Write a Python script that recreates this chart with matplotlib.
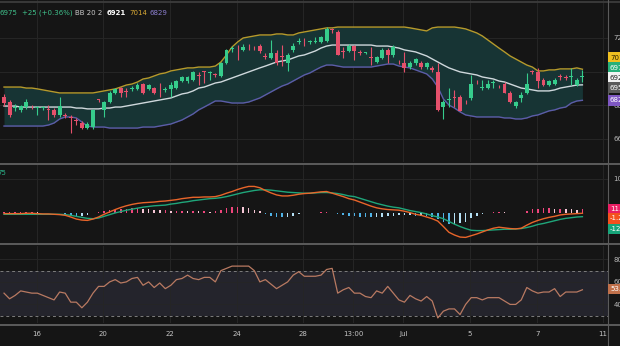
import matplotlib.pyplot as plt
from matplotlib.lines import Line2D

# 4h candles (bar index 0..104)
opens = [6849, 6819, 6783, 6772, 6789, 6789, 6783, 6783, 6778, 6772,
         6742, 6742, 6730, 6712, 6694, 6664, 6670, 6831, 6772, 6819,
         6873, 6902, 6879, 6897, 6897, 6926, 6897, 6902, 6902, 6891,
         6897, 6902, 6944, 6944, 6950, 6974, 6998, 6992, 6980, 6974,
         7051, 7135, 7146, 7129, 7146, 7140, 7152, 7087, 7081, 7111,
         7087, 7051, 7129, 7176, 7176, 7176, 7176, 7176, 7182, 7248,
         7236, 7117, 7123, 7152, 7111, 7111, 7081, 7057, 7081, 7129,
         7099, 7057, 7051, 7027, 7051, 7051, 7027, 7022, 6998, 6789,
         6831, 6843, 6849, 6819, 6843, 6938, 6902, 6902, 6932, 6908,
         6926, 6873, 6795, 6843, 6873, 6998, 6998, 6950, 6920, 6926,
         6968, 6962, 6968, 6920, 6968]
highs = [6867, 6831, 6807, 6801, 6837, 6801, 6795, 6795, 6801, 6783,
         6849, 6754, 6742, 6724, 6706, 6700, 6778, 6837, 6825, 6885,
         6902, 6908, 6902, 6914, 6932, 6932, 6926, 6908, 6932, 6908,
         6938, 6950, 6974, 6974, 7004, 6998, 7004, 7004, 6992, 7057,
         7135, 7152, 7158, 7164, 7164, 7152, 7164, 7111, 7188, 7129,
         7158, 7111, 7170, 7200, 7200, 7188, 7206, 7212, 7265, 7260,
         7248, 7146, 7164, 7158, 7129, 7117, 7146, 7093, 7140, 7140,
         7158, 7069, 7117, 7063, 7081, 7063, 7057, 7033, 7051, 6831,
         6902, 6891, 6861, 6831, 6980, 6950, 6950, 6950, 6950, 6920,
         6938, 6885, 6825, 6879, 6992, 7010, 7022, 6962, 6950, 6962,
         6986, 6980, 7022, 6962, 7010]
lows = [6795, 6730, 6766, 6760, 6778, 6778, 6742, 6772, 6712, 6730,
        6730, 6724, 6635, 6682, 6658, 6658, 6658, 6819, 6730, 6813,
        6867, 6849, 6849, 6885, 6891, 6867, 6891, 6867, 6849, 6879,
        6849, 6897, 6938, 6932, 6944, 6920, 6932, 6950, 6968, 6968,
        7045, 7117, 7069, 7123, 7129, 7129, 7111, 7075, 7075, 7039,
        7033, 7004, 7117, 7164, 7152, 7164, 7170, 7170, 7176, 7230,
        7099, 7081, 7117, 7069, 7099, 7105, 7039, 7051, 7075, 7051,
        7087, 7045, 6998, 7016, 7039, 7016, 7016, 6998, 6766, 6718,
        6789, 6789, 6766, 6807, 6831, 6926, 6891, 6897, 6902, 6902,
        6873, 6813, 6783, 6819, 6867, 6986, 6902, 6914, 6914, 6920,
        6950, 6950, 6920, 6914, 6938]
closes = [6813, 6742, 6789, 6795, 6819, 6787, 6785, 6789, 6772, 6742,
          6795, 6736, 6724, 6706, 6664, 6688, 6772, 6829, 6819, 6873,
          6897, 6873, 6877, 6902, 6920, 6873, 6920, 6873, 6900, 6897,
          6920, 6944, 6968, 6968, 6998, 6972, 6996, 6998, 6978, 7051,
          7129, 7140, 7144, 7146, 7144, 7138, 7123, 7085, 7111, 7051,
          7085, 7099, 7152, 7182, 7174, 7178, 7180, 7206, 7254, 7246,
          7099, 7115, 7152, 7123, 7109, 7113, 7079, 7087, 7129, 7099,
          7146, 7055, 7022, 7051, 7075, 7027, 7051, 7010, 6772, 6819,
          6837, 6841, 6766, 6817, 6926, 6936, 6908, 6926, 6938, 6906,
          6873, 6819, 6819, 6861, 6926, 6996, 6944, 6920, 6944, 6950,
          6966, 6960, 6970, 6950, 6975]

# Bollinger Bands (20, 2)
bb_upper = [6908, 6908, 6908, 6908, 6902, 6902, 6897, 6891, 6885, 6879,
            6873, 6873, 6873, 6873, 6873, 6873, 6873, 6879, 6885, 6891,
            6897, 6908, 6920, 6926, 6938, 6956, 6962, 6974, 6986, 6992,
            7004, 7010, 7016, 7022, 7022, 7027, 7027, 7027, 7033, 7057,
            7099, 7146, 7176, 7200, 7206, 7212, 7218, 7218, 7218, 7224,
            7224, 7218, 7218, 7230, 7236, 7242, 7248, 7254, 7260, 7260,
            7265, 7265, 7265, 7265, 7265, 7265, 7265, 7265, 7265, 7265,
            7265, 7265, 7265, 7260, 7254, 7248, 7242, 7260, 7265, 7265,
            7265, 7265, 7260, 7254, 7242, 7230, 7212, 7188, 7164, 7140,
            7117, 7093, 7075, 7057, 7039, 7027, 7004, 7004, 7010, 7010,
            7016, 7016, 7016, 7022, 7014]
bb_mid = [6795, 6795, 6795, 6789, 6789, 6789, 6789, 6789, 6789, 6789,
          6789, 6789, 6789, 6783, 6783, 6778, 6778, 6778, 6783, 6783,
          6789, 6789, 6795, 6801, 6807, 6813, 6819, 6825, 6831, 6837,
          6843, 6855, 6867, 6873, 6885, 6902, 6908, 6920, 6932, 6938,
          6950, 6962, 6974, 6986, 6998, 7010, 7022, 7033, 7045, 7057,
          7063, 7069, 7081, 7093, 7099, 7111, 7123, 7140, 7152, 7158,
          7158, 7158, 7158, 7158, 7158, 7158, 7158, 7152, 7152, 7152,
          7146, 7140, 7129, 7123, 7117, 7105, 7093, 7075, 7057, 7039,
          7022, 7010, 6998, 6992, 6986, 6980, 6968, 6962, 6956, 6944,
          6938, 6926, 6914, 6902, 6897, 6891, 6885, 6885, 6885, 6891,
          6902, 6908, 6914, 6920, 6921]
bb_lower = [6676, 6676, 6676, 6676, 6676, 6676, 6676, 6676, 6682, 6694,
            6718, 6730, 6730, 6724, 6700, 6676, 6670, 6670, 6670, 6664,
            6664, 6664, 6664, 6664, 6664, 6670, 6670, 6670, 6676, 6682,
            6688, 6700, 6712, 6730, 6748, 6772, 6789, 6807, 6825, 6825,
            6819, 6813, 6813, 6813, 6819, 6831, 6843, 6861, 6879, 6897,
            6914, 6926, 6944, 6962, 6980, 6992, 7010, 7027, 7039, 7039,
            7033, 7027, 7027, 7027, 7027, 7027, 7027, 7033, 7039, 7045,
            7045, 7033, 7027, 7022, 7010, 6998, 6986, 6956, 6908, 6837,
            6801, 6783, 6760, 6742, 6736, 6730, 6730, 6730, 6730, 6730,
            6724, 6724, 6718, 6718, 6724, 6736, 6742, 6754, 6766, 6772,
            6783, 6789, 6813, 6825, 6829]

# MACD (12, 26, 9)
macd_line = [-2, -2, -2, -2, -1, -1, -2, -3, -3, -4,
             -5, -7, -12, -18, -21, -22, -18, -12, -4, 3,
             10, 16, 21, 25, 28, 30, 31, 32, 34, 35,
             37, 39, 42, 44, 46, 46, 47, 47, 48, 52,
             58, 63, 69, 74, 78, 78, 74, 66, 59, 53,
             50, 50, 52, 55, 57, 58, 60, 62, 63, 58,
             53, 48, 42, 38, 32, 26, 20, 15, 12, 10,
             9, 8, 5, 1, -4, -7, -12, -17, -24, -40,
             -57, -65, -71, -72, -67, -62, -56, -50, -45, -42,
             -44, -46, -47, -45, -36, -28, -22, -17, -13, -10,
             -6, -4, -3, -2, -1]
signal_line = [-4, -4, -4, -4, -4, -4, -4, -4, -4, -4,
               -4, -5, -7, -10, -13, -16, -17, -15, -10, -5,
               0, 4, 8, 11, 14, 17, 19, 21, 22, 23,
               26, 28, 31, 33, 36, 38, 40, 42, 43, 45,
               48, 52, 56, 60, 63, 66, 68, 68, 67, 65,
               63, 61, 60, 59, 58, 58, 59, 60, 60, 59,
               57, 54, 50, 48, 43, 38, 33, 28, 24, 20,
               17, 15, 11, 7, 4, 1, -3, -8, -12, -17,
               -25, -33, -40, -46, -51, -52, -52, -51, -50, -49,
               -48, -48, -47, -46, -43, -39, -34, -31, -27, -23,
               -19, -16, -14, -12, -11]
macd_hist = [2, 2, 2, 2, 3, 3, 2, 1, 1, 0,
             -1, -2, -5, -8, -8, -6, -1, 3, 6, 8,
             10, 12, 13, 14, 14, 13, 12, 9, 8, 8,
             7, 7, 7, 6, 6, 5, 5, 4, 5, 8,
             14, 17, 18, 16, 14, 10, 6, -2, -8, -12,
             -13, -11, -8, -4, -1, 0, 1, 2, 3, -1,
             -4, -6, -8, -10, -11, -12, -13, -13, -12, -10,
             -8, -7, -6, -6, -8, -8, -9, -11, -18, -28,
             -32, -32, -31, -26, -16, -10, -4, 1, 2, 3,
             2, 1, 0, 1, 7, 11, 12, 14, 14, 13,
             13, 12, 11, 10, 11]

# RSI (14)
rsi = [50, 45, 48, 52, 51, 50, 50, 48, 46, 44,
       51, 50, 42, 42, 37, 42, 50, 56, 56, 60,
       62, 59, 60, 63, 64, 57, 60, 55, 59, 54,
       57, 62, 63, 66, 63, 62, 64, 64, 60, 70,
       72, 74, 74, 74, 74, 70, 60, 62, 58, 54,
       57, 60, 66, 69, 65, 65, 65, 66, 71, 72,
       50, 53, 55, 50, 50, 47, 46, 52, 50, 56,
       50, 44, 42, 48, 45, 43, 47, 43, 28, 34,
       36, 36, 31, 40, 46, 46, 44, 46, 46, 46,
       43, 40, 40, 44, 55, 52, 50, 51, 51, 54,
       47, 51, 51, 51, 53]

# time axis labels (bar index where each label sits)
date_pos = [5.9, 17.8, 29.9, 41.9, 53.8, 62.8, 71.8, 83.8, 95.9, 107.7]
date_labels = ['16', '20', '22', '24', '28', '13:00', 'Jul', '5', '7', '11']
price_ticks = [6600, 6800, 7000, 7200]

BG = '#151515'
GREEN = '#36cc8c'
RED = '#e5506b'
W, H = 620, 346

fig = plt.figure(figsize=(W / 100, H / 100), dpi=100, facecolor=BG)


def panel(top, bottom):
    ax = fig.add_axes([0, 1 - bottom / H, 608 / W, (bottom - top) / H])
    ax.set_facecolor(BG)
    for s in ax.spines.values():
        s.set_visible(False)
    ax.yaxis.tick_right()
    ax.tick_params(length=0, labelsize=5, colors='#b8b8b8', pad=4)
    ax.set_xlim(-0.72, 108.6)
    ax.set_xticks(date_pos)
    ax.grid(color='#262626', lw=0.7)
    ax.set_axisbelow(True)
    return ax


idx = list(range(len(closes)))

# price panel
ax1 = panel(0, 162)
ax1.set_ylim(6462, 7426)
ax1.set_yticks(price_ticks)
ax1.tick_params(labelbottom=False)
ax1.fill_between(idx, bb_lower, bb_upper, color='#173434', lw=0, zorder=1)
ax1.plot(idx, bb_upper, color='#b59a2c', lw=1.0, zorder=2)
ax1.plot(idx, bb_mid, color='#cfd8dc', lw=1.0, zorder=2)
ax1.plot(idx, bb_lower, color='#5c5ca8', lw=1.0, zorder=2)

cols = [GREEN if c >= o else RED for o, c in zip(opens, closes)]
body_lo = [min(o, c) for o, c in zip(opens, closes)]
body_h = [max(abs(c - o), 5) for o, c in zip(opens, closes)]
ax1.vlines(idx, lows, highs, colors=cols, lw=0.8, zorder=3)
ax1.bar(idx, body_h, bottom=body_lo, width=0.7, color=cols, lw=0, zorder=4)

# MACD panel
ax2 = panel(165, 242.5)
ax2.set_ylim(-87, 141)
ax2.set_yticks([100])
ax2.tick_params(labelbottom=False)
hist_cols = []
for k, v in enumerate(macd_hist):
    prev = macd_hist[k - 1] if k else v
    if v >= 0:
        hist_cols.append('#f0457c' if v >= prev else '#f6c7d6')
    else:
        hist_cols.append('#4fb3e8' if v < prev else '#b5e0f5')
ax2.bar(idx, macd_hist, width=0.28, color=hist_cols, lw=0, zorder=2)
ax2.plot(idx, signal_line, color='#1fa67a', lw=1.0, zorder=3)
ax2.plot(idx, macd_line, color='#e8652a', lw=1.0, zorder=4)

# RSI panel
ax3 = panel(245.5, 323)
ax3.set_ylim(23.5, 92.3)
ax3.set_yticks([40, 60, 80])
ax3.axhspan(30, 70, color='#24242c', lw=0, zorder=0.5)
ax3.axhline(70, color='#7d7d7d', lw=0.7, ls=(0, (3, 3)))
ax3.axhline(30, color='#7d7d7d', lw=0.7, ls=(0, (3, 3)))
ax3.plot(idx, rsi, color='#b97a62', lw=0.9, zorder=3)
ax3.set_xticklabels(date_labels)
ax3.tick_params(axis='x', pad=5.5, colors='#c4c4c4')

# panel separators and price-scale divider
for ypx in (1.5, 163.5, 243.8, 324.5):
    fig.add_artist(Line2D([0, 1], [1 - ypx / H] * 2, transform=fig.transFigure,
                          color='#5b5b5b' if ypx > 2 else '#3a3a3a', lw=1.4))
fig.add_artist(Line2D([608 / W] * 2, [0, 1], transform=fig.transFigure,
                      color='#5b5b5b', lw=0.8))


def badge(ypx, txt, fc, tc):
    fig.text(610 / W, 1 - ypx / H, txt, fontsize=5, color=tc, va='center', ha='left',
             bbox=dict(boxstyle='square,pad=0.3', fc=fc, ec='none'), zorder=10)


badge(57.5, str(bb_upper[-1]), '#f0c020', '#2a2000')
badge(67.5, str(closes[-1]), '#26b07a', '#ffffff')
badge(77.5, str(bb_mid[-1]), '#f2f2f2', '#202020')
badge(87.5, '6950', '#5a5a5a', '#ffffff')
badge(100.5, str(bb_lower[-1]), '#7e57c2', '#ffffff')
badge(209, '11.4', '#e91e63', '#ffffff')
badge(218.5, '-1.2', '#f4511e', '#ffffff')
badge(229, '-12.6', '#17a57a', '#ffffff')
badge(289, '53.2', '#c0704a', '#ffffff')


# legend-style headers
def head(xpx, ypx, txt, col, weight='normal'):
    fig.text(xpx / W, 1 - ypx / H, txt, fontsize=5, color=col, va='center', ha='left',
             fontweight=weight)


head(-1, 13, str(closes[-1]), '#3fbf8a')
head(22, 13, '+25 (+0.36%)', '#3fbf8a')
head(75, 13, 'BB 20 2', '#c8c8c8')
head(107, 13, str(bb_mid[-1]), '#ffffff', 'bold')
head(129, 13, str(bb_upper[-1]), '#d9a935')
head(150, 13, str(bb_lower[-1]), '#8c7fd0')
head(-3, 173, '75', '#2bb48a')

fig.savefig('out.png', dpi=100, facecolor=BG)
